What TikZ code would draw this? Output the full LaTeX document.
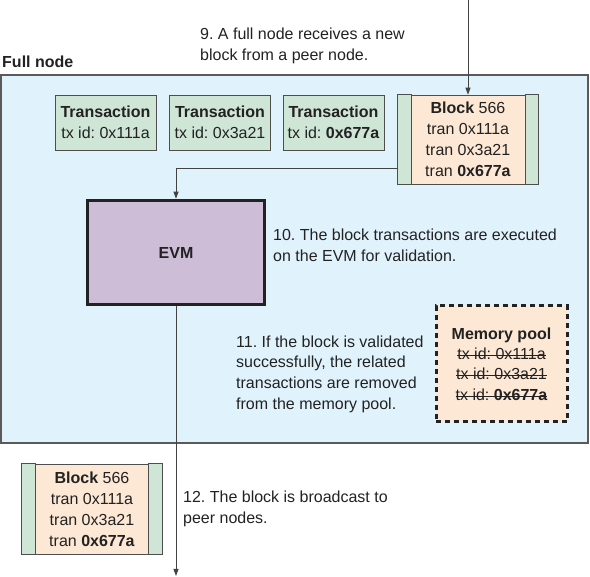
\documentclass[tikz,border=0pt]{standalone}
\usepackage{fontspec}
\setmainfont{Liberation Sans}
\newcommand{\strk}[1]{\leavevmode\setbox0\hbox{#1}\rlap{\rule[0.22em]{\wd0}{1.1pt}}\box0}
\usetikzlibrary{arrows.meta}
\definecolor{fullfill}{HTML}{E0F3FC}
\definecolor{txfill}{HTML}{CFE6D6}
\definecolor{blkfill}{HTML}{FDE8D5}
\definecolor{evmfill}{HTML}{CDBDD7}
\definecolor{ink}{HTML}{222222}
\definecolor{frame}{HTML}{5A5A5A}
\begin{document}
\frenchspacing
\begin{tikzpicture}[x=1pt,y=-1pt,
  every node/.style={font=\fontsize{16}{21}\selectfont, text=ink},
  fullbox/.style={draw=frame, line width=1.3pt, fill=fullfill, minimum width=587pt, minimum height=368pt, inner sep=0pt},
  txbox/.style={draw=ink!80, line width=0.6pt, fill=txfill, minimum width=101pt, minimum height=55pt, inner sep=0pt, align=center},
  blkbox/.style={draw=ink!80, line width=0.6pt, fill=blkfill, minimum width=140pt, minimum height=89pt, inner sep=0pt, align=center},
  strip/.style={draw=ink!80, line width=0.6pt, fill=txfill},
  evmbox/.style={draw=ink, line width=3.5pt, fill=evmfill, minimum width=177pt, minimum height=104pt, inner sep=0pt, font=\fontsize{16}{21}\selectfont\bfseries},
  poolbox/.style={draw=ink, line width=3pt, dash pattern=on 5pt off 4pt, fill=blkfill, minimum width=131pt, minimum height=116pt, inner sep=0pt, align=center, font=\fontsize{16}{20.3}\selectfont},
  note/.style={align=left, anchor=west, inner sep=0pt},
  conn/.style={draw=ink!85, line width=0.9pt, -{Triangle[length=7pt,width=5pt]}},
]
\useasboundingbox (0,0) rectangle (590,577);

% full node container
\node[fullbox] (full) at (294.5,259) {};
\node[anchor=west, inner sep=0pt, font=\fontsize{16}{21}\selectfont\bfseries] (fulllabel) at (2,62) {Full node};

% transactions
\node[txbox] (tx1) at (105.5,122.5) {\textbf{Transaction}\\tx id: 0x111a};
\node[txbox] (tx2) at (220,122.5) {\textbf{Transaction}\\tx id: 0x3a21};
\node[txbox] (tx3) at (333.5,122.5) {\textbf{Transaction}\\tx id: \textbf{0x677a}};

% block in full node
\node[blkbox] (blk) at (468,139.5) {\textbf{Block} 566\\tran 0x111a\\tran 0x3a21\\tran \textbf{0x677a}};
\draw[strip] (blk.north west) rectangle ([xshift=14pt]blk.south west);
\draw[strip] ([xshift=-13.5pt]blk.north east) rectangle (blk.south east);

% EVM
\node[evmbox] (evm) at (176,252.5) {EVM};

% memory pool
\node[poolbox] (pool) at (501.5,364) {\textbf{Memory pool}\\\strk{tx id: 0x111a}\\\strk{tx id: 0x3a21}\\\strk{tx id: \textbf{0x677a}}};

% broadcast block
\node[blkbox, minimum width=140.5pt, minimum height=90pt] (blk2) at (92,509) {\textbf{Block} 566\\tran 0x111a\\tran 0x3a21\\tran \textbf{0x677a}};
\draw[strip] (blk2.north west) rectangle ([xshift=14pt]blk2.south west);
\draw[strip] ([xshift=-14pt]blk2.north east) rectangle (blk2.south east);

% notes
\node[note] (n9) at (200,45.5) {9. A full node receives a new\\block from a peer node.};
\node[note] (n10) at (273,245) {10. The block transactions are executed\\on the EVM for validation.};
\node[note, font=\fontsize{16}{20.6}\selectfont] (n11) at (236,374) {11. If the block is validated\\successfully, the related\\transactions are removed\\from the memory pool.};
\node[note] (n12) at (183,508.5) {12. The block is broadcast to\\peer nodes.};

% connectors
\coordinate (src) at (468,0);
\coordinate (sink) at (176,576);
\draw[conn] (src) -- (blk.north);
\draw[conn] ([yshift=-28.5pt]blk.west) -| (evm.north);
\draw[conn] (evm.south) -- (sink);
\end{tikzpicture}
\end{document}
